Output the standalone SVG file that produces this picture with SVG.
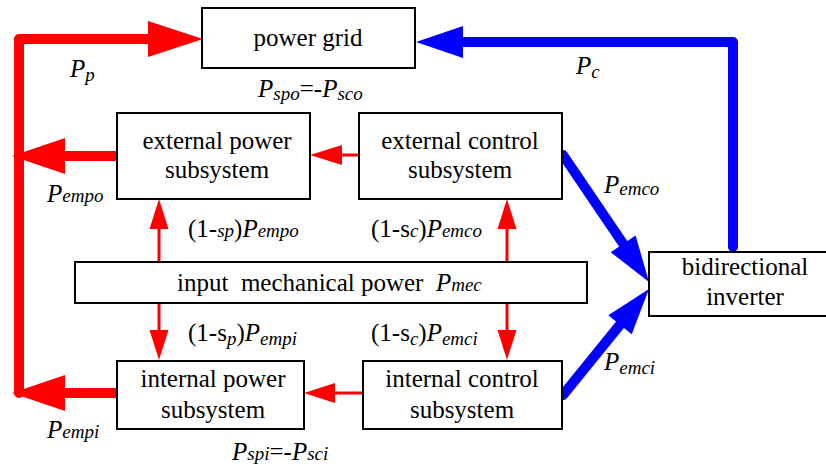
<svg xmlns="http://www.w3.org/2000/svg" width="826" height="467" viewBox="0 0 826 467">
<style>
.box{fill:#fff;stroke:#000;stroke-width:2}
.t{font-family:"Liberation Serif","Times New Roman",Times,"DejaVu Serif",serif;font-size:25px;fill:#000}
.c{text-anchor:middle}
.i{font-style:italic}
.s{font-size:19px;font-style:italic}
.red{stroke:#ff0000;fill:none;stroke-width:10;stroke-linecap:round;stroke-linejoin:round}
.redt{stroke:#ff0000;fill:none;stroke-width:3}
.blue{stroke:#0000ff;fill:none;stroke-width:10;stroke-linecap:round;stroke-linejoin:round}
.rh{fill:#ff0000}
.bh{fill:#0000ff}
</style>
<g id="connectors">
<path class="red" d="M150,39 H19 V393"/>
<polygon class="rh" points="148,21 203,39 148,57"/>
<path class="red" d="M117,156 H64"/>
<polygon class="rh" points="65,138 12,156 65,174"/>
<path class="red" d="M117,393 H64"/>
<polygon class="rh" points="65,375 12,393 65,411"/>
<path class="redt" d="M359,155 H340"/>
<polygon class="rh" points="342,145 310,155 342,165"/>
<path class="redt" d="M363,393 H333"/>
<polygon class="rh" points="335,383 304,393 335,403"/>
<path class="redt" d="M159,262 V227"/>
<polygon class="rh" points="149.5,229 159,199 168.5,229"/>
<path class="redt" d="M159,303 V332"/>
<polygon class="rh" points="149.5,330 159,360 168.5,330"/>
<path class="redt" d="M507,262 V227"/>
<polygon class="rh" points="497.5,229 507,199 516.5,229"/>
<path class="redt" d="M507,303 V332"/>
<polygon class="rh" points="497.5,330 507,360 516.5,330"/>
<path class="blue" d="M733,247 V42 H460"/>
<polygon class="bh" points="463,26 416,42 463,58"/>
<path class="blue" d="M563,155 L624,245"/>
<polygon class="bh" points="610.7,252.2 649,282 635.6,235.4"/>
<path class="blue" d="M563,395 L621,323.5"/>
<polygon class="bh" points="631.7,334.2 649,289 608.3,315.3"/>
</g>
<g id="power-grid">
<rect class="box" x="202" y="8" width="213" height="60"/>
<text class="t c" x="308" y="46">power grid</text>
</g>
<g id="external-power">
<rect class="box" x="117" y="113" width="193" height="86"/>
<text class="t c" x="217" y="149">external power</text>
<text class="t c" x="217" y="178">subsystem</text>
</g>
<g id="external-control">
<rect class="box" x="359" y="113" width="203" height="86"/>
<text class="t c" x="460" y="149">external control</text>
<text class="t c" x="460" y="178">subsystem</text>
</g>
<g id="input-mechanical">
<rect class="box" x="75" y="262" width="512" height="41"/>
<text class="t" x="177" y="291" xml:space="preserve">input  mechanical power  <tspan class="i">P</tspan><tspan class="s">mec</tspan></text>
</g>
<g id="internal-power">
<rect class="box" x="117" y="361" width="187" height="68"/>
<text class="t c" x="213" y="387">internal power</text>
<text class="t c" x="213" y="418">subsystem</text>
</g>
<g id="internal-control">
<rect class="box" x="363" y="361" width="199" height="68"/>
<text class="t c" x="462" y="387">internal control</text>
<text class="t c" x="462" y="418">subsystem</text>
</g>
<g id="bidirectional-inverter">
<rect class="box" x="649" y="252" width="178" height="64"/>
<text class="t c" x="745" y="275">bidirectional</text>
<text class="t c" x="745" y="305">inverter</text>
</g>
<g id="labels">
<text class="t" x="70" y="77"><tspan class="i">P</tspan><tspan class="s" dy="4">p</tspan></text>
<text class="t" x="576" y="74"><tspan class="i">P</tspan><tspan class="s" dy="4">c</tspan></text>
<text class="t" x="258" y="97"><tspan class="i">P</tspan><tspan class="s" dy="3">spo</tspan><tspan dy="-3">=-</tspan><tspan class="i">P</tspan><tspan class="s" dy="3">sco</tspan></text>
<text class="t" x="47" y="202"><tspan class="i">P</tspan><tspan class="s">empo</tspan></text>
<text class="t" x="604" y="193"><tspan class="i">P</tspan><tspan class="s" dy="2">emco</tspan></text>
<text class="t" x="188" y="237">(1-<tspan class="s">sp</tspan>)<tspan class="i">P</tspan><tspan class="s">empo</tspan></text>
<text class="t" x="371" y="237">(1-s<tspan class="s">c</tspan>)<tspan class="i">P</tspan><tspan class="s">emco</tspan></text>
<text class="t" x="188" y="341">(1-s<tspan class="s" dy="4">p</tspan><tspan dy="-4">)</tspan><tspan class="i">P</tspan><tspan class="s" dy="4">empi</tspan></text>
<text class="t" x="371" y="341">(1-s<tspan class="s" dy="4">c</tspan><tspan dy="-4">)</tspan><tspan class="i">P</tspan><tspan class="s" dy="4">emci</tspan></text>
<text class="t" x="604" y="370"><tspan class="i">P</tspan><tspan class="s" dy="4">emci</tspan></text>
<text class="t" x="47" y="438"><tspan class="i">P</tspan><tspan class="s">empi</tspan></text>
<text class="t" x="232" y="460"><tspan class="i">P</tspan><tspan class="s">spi</tspan>=-<tspan class="i">P</tspan><tspan class="s">sci</tspan></text>
</g>
</svg>
